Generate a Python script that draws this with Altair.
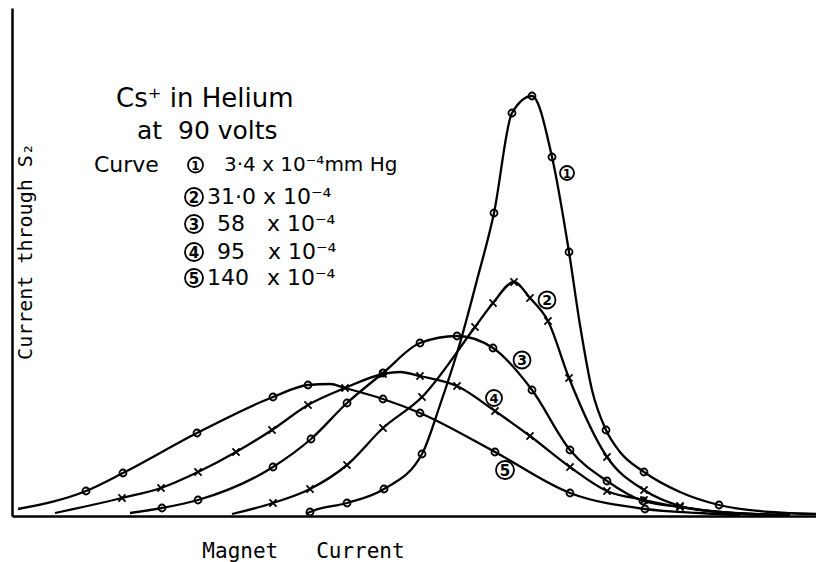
import altair as alt
import pandas as pd

NB = "\u00a0"

# ---- curve data (magnet current in arbitrary units, current through S2 in arbitrary units)
# mark = 1 where an observed point is drawn on the curve
c1_x = [294, 298, 335, 372, 410, 428, 448, 465, 482, 500, 520, 540, 557, 568, 580, 594, 608, 632, 668, 707, 758, 804]
c1_y = [2, 4, 13, 27, 62, 111, 173, 236, 303, 403, 420, 359, 264, 191, 126, 86, 64, 44, 24, 11, 4, 2]
c1_m = [0, 1, 1, 1, 1, 0, 0, 0, 1, 1, 1, 1, 1, 0, 0, 1, 0, 1, 0, 1, 0, 0]

c2_x = [220, 261, 298, 335, 371, 410, 463, 481, 502, 518, 536, 557, 595, 632, 668, 708, 768]
c2_y = [2, 13, 27, 51, 88, 119, 189, 213, 234, 218, 195, 138, 59, 26, 10, 4, 1]
c2_m = [0, 1, 1, 1, 1, 1, 1, 1, 1, 1, 1, 1, 1, 1, 1, 0, 0]

c3_x = [118, 150, 186, 261, 299, 335, 371, 408, 445, 481, 520, 558, 595, 631, 668, 708, 778]
c3_y = [3, 8, 16, 49, 77, 113, 143, 173, 180, 168, 126, 66, 35, 15, 9, 4, 1]
c3_m = [0, 1, 1, 1, 1, 1, 1, 1, 1, 1, 1, 1, 1, 1, 0, 0, 0]

c4_x = [43, 110, 149, 186, 224, 260, 296, 333, 371, 388, 408, 445, 483, 518, 558, 595, 632, 668, 708, 748]
c4_y = [3, 18, 28, 44, 64, 86, 111, 128, 142, 144, 140, 130, 105, 80, 49, 25, 16, 9, 4, 1]
c4_m = [0, 1, 1, 1, 1, 1, 1, 1, 1, 0, 1, 1, 1, 1, 1, 1, 1, 1, 0, 0]

c5_x = [6, 74, 111, 185, 261, 296, 318, 333, 371, 408, 483, 558, 633, 688, 728]
c5_y = [7, 25, 43, 83, 119, 131, 132, 128, 117, 103, 64, 23, 7, 3, 1]
c5_m = [0, 1, 1, 1, 1, 1, 0, 0, 1, 1, 1, 1, 1, 0, 0]

curves = [
    ("1", c1_x, c1_y, c1_m, "o"),
    ("2", c2_x, c2_y, c2_m, "x"),
    ("3", c3_x, c3_y, c3_m, "o"),
    ("4", c4_x, c4_y, c4_m, "x"),
    ("5", c5_x, c5_y, c5_m, "o"),
]

rows = []
for name, xs, ys, ms, sym in curves:
    for xv, yv, mv in zip(xs, ys, ms):
        rows.append({"curve": name, "x": xv, "v": yv, "mark": mv, "sym": sym})
df = pd.DataFrame(rows)

# ---- circled curve numbers (on the curves and in the key)
num_text = ["1", "2", "3", "4", "5", "1", "2", "3", "4", "5"]
num_x = [555, 535, 510, 482, 493, 183.5, 182, 182, 182, 182]
num_y = [343, 216, 156, 118, 46, 351, 319, 292, 264, 238]
num_area = [196, 289, 289, 256, 324, 225, 324, 324, 324, 324]
num_fs = [12, 14, 14, 13, 15, 12, 15, 15, 15, 15]

# ---- key text
leg_text = ["Cs⁺ in Helium", "at" + NB + " 90 volts", "Curve", "3·4 x 10⁻⁴mm Hg",
            "31·0 x 10⁻⁴", "58", "x 10⁻⁴", "95", "x 10⁻⁴", "140", "x 10⁻⁴"]
leg_x = [104, 125, 82, 212, 195, 205, 255, 205, 256, 195, 255]
leg_y = [417, 385, 351, 351, 319, 292, 292, 264, 264, 238, 238]
leg_size = [26, 25, 22, 20, 22, 22, 22, 22, 22, 22, 22]

nums = pd.DataFrame({"t": num_text, "x": num_x, "v": num_y, "a": num_area, "fs": num_fs})
legend = pd.DataFrame({"t": leg_text, "x": leg_x, "v": leg_y, "fs": leg_size})

xs = alt.Scale(domain=[0, 804], nice=False, zero=False)
ys = alt.Scale(domain=[0, 508], nice=False, zero=False)

x_axis = alt.Axis(title="Magnet" + NB * 3 + "Current", ticks=False, labels=False, grid=False,
                  domainColor="black", domainWidth=2.5,
                  titleFont="DejaVu Sans Mono", titleFontSize=21, titleFontWeight="normal",
                  titleColor="black", titleX=291, titleY=41,
                  titleAlign="center", titleBaseline="alphabetic")
y_axis = alt.Axis(title="Current through S₂", ticks=False, labels=False, grid=False,
                  domainColor="black", domainWidth=2.5,
                  titleFont="DejaVu Sans Mono", titleFontSize=20, titleFontWeight="normal",
                  titleColor="black", titleAngle=270, titleX=13, titleY=243,
                  titleAlign="center", titleBaseline="middle")

base = alt.Chart(df)

lines = base.mark_line(interpolate="monotone", color="black", strokeWidth=2.3).encode(
    x=alt.X("x:Q", scale=xs, axis=x_axis),
    y=alt.Y("v:Q", scale=ys, axis=y_axis),
    detail="curve:N",
)

circles = base.transform_filter("datum.mark == 1 && datum.sym == 'o'").mark_point(
    shape="circle", filled=False, color="black", size=49, strokeWidth=1.8, opacity=1
).encode(x=alt.X("x:Q", scale=xs), y=alt.Y("v:Q", scale=ys))

crosses = base.transform_filter("datum.mark == 1 && datum.sym == 'x'").mark_point(
    shape="M-1,-1L1,1M1,-1L-1,1", filled=False, color="black", size=50, strokeWidth=1.8, opacity=1
).encode(x=alt.X("x:Q", scale=xs), y=alt.Y("v:Q", scale=ys))

num_rings = alt.Chart(nums).mark_point(
    shape="circle", filled=False, color="black", strokeWidth=1.8, opacity=1
).encode(x=alt.X("x:Q", scale=xs), y=alt.Y("v:Q", scale=ys),
         size=alt.Size("a:Q", scale=None))

num_digits = alt.Chart(nums).mark_text(
    font="DejaVu Sans", fontWeight="bold", color="black", align="center", baseline="middle", dy=0.5
).encode(x=alt.X("x:Q", scale=xs), y=alt.Y("v:Q", scale=ys),
         text="t:N", size=alt.Size("fs:Q", scale=None))

leg = alt.Chart(legend).mark_text(
    font="DejaVu Sans", color="black", align="left", baseline="middle"
).encode(x=alt.X("x:Q", scale=xs), y=alt.Y("v:Q", scale=ys),
         text="t:N", size=alt.Size("fs:Q", scale=None))

chart = alt.layer(lines, circles, crosses, num_rings, num_digits, leg).properties(
    width=804, height=508,
    autosize=alt.AutoSizeParams(type="none"),
    padding={"left": 4, "top": 0, "right": 0, "bottom": 46},
    background="white",
).configure_view(stroke=None)

chart.save("out.html", embed_options={"renderer": "svg", "actions": False})
